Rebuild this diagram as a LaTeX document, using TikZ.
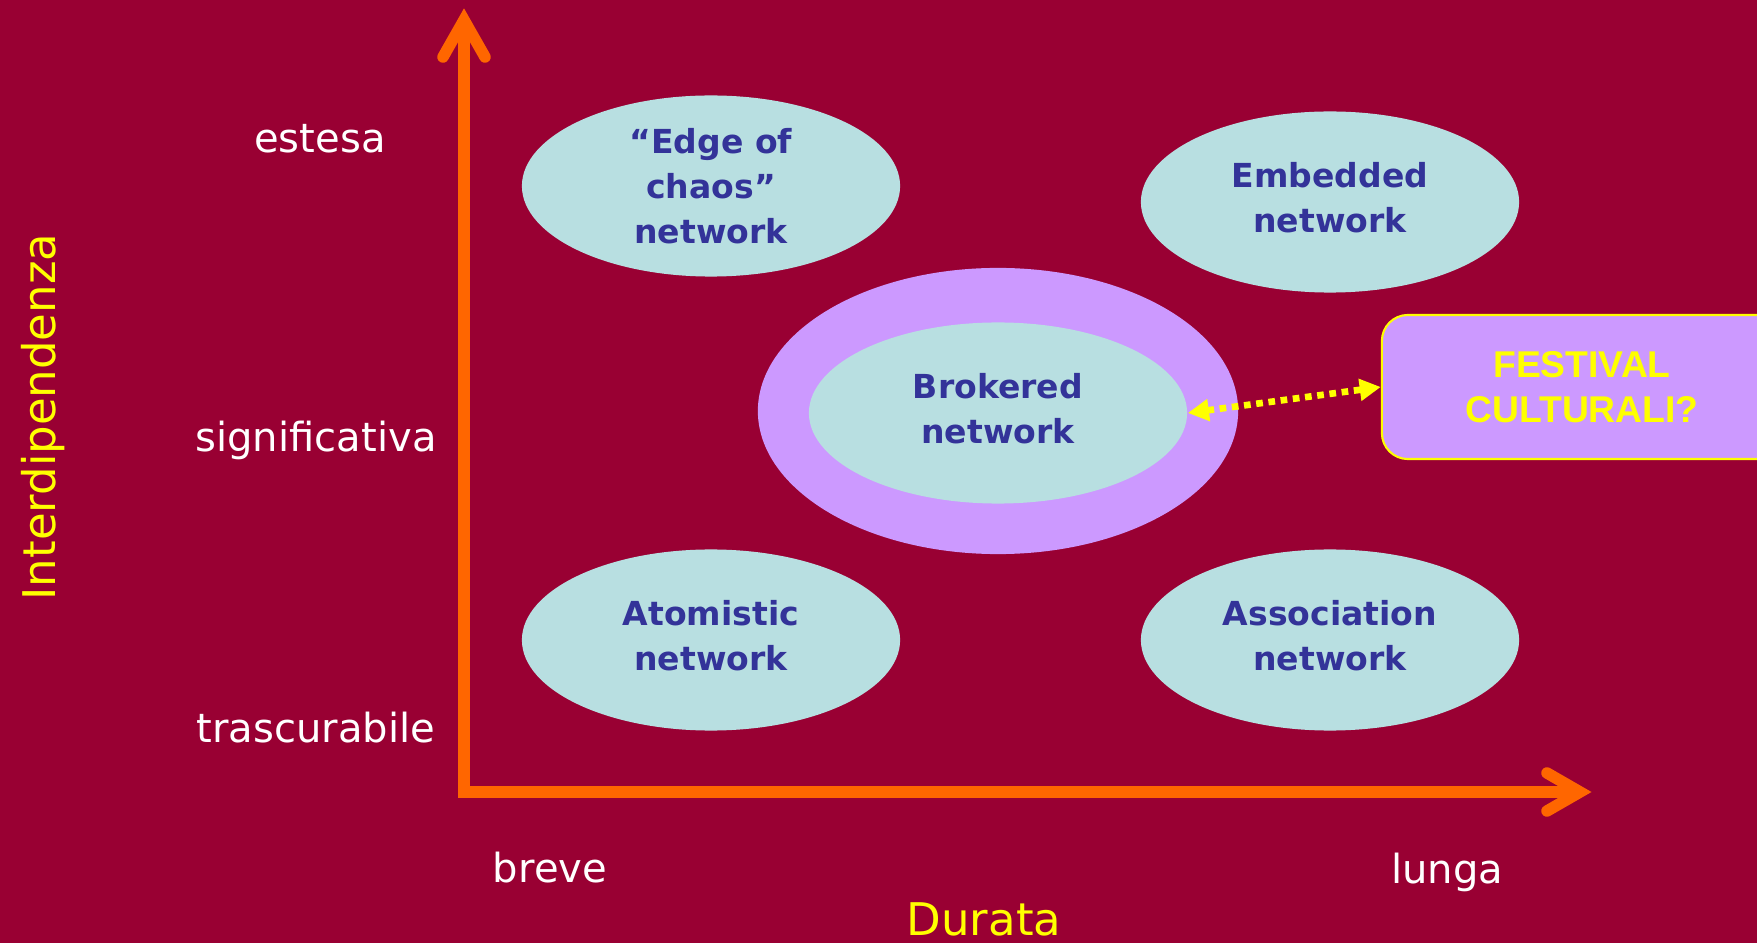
\documentclass[tikz,border=0pt]{standalone}
\usepackage{fontspec}
\setmainfont{DejaVu Sans}
\newfontfamily\boxfont{Liberation Sans}
\usetikzlibrary{shapes.geometric,arrows.meta}

\definecolor{bgred}{HTML}{990033}
\definecolor{axisorange}{HTML}{FF6600}
\definecolor{cloud}{HTML}{B8DFE1}
\definecolor{lilac}{HTML}{CC99FF}
\definecolor{ink}{HTML}{333399}
\definecolor{gold}{HTML}{FFFF00}

\begin{document}
\begin{tikzpicture}[x=0.01cm, y=-0.01cm,
  axisline/.style={draw=axisorange, line width=0.115cm},
  net/.style={ellipse, fill=cloud, minimum width=3.78cm, minimum height=1.81cm,
    inner sep=0pt, text=ink, align=center,
    font=\fontsize{9.4}{12.8}\selectfont\bfseries},
  twoline/.style={text depth=2.6pt},
  halo/.style={ellipse, fill=lilac, minimum width=4.8cm, minimum height=2.86cm, inner sep=0pt},
  scalelabel/.style={text=white, anchor=base, inner sep=0pt,
    font=\fontsize{11.4}{13}\selectfont},
  axistitle/.style={text=gold, anchor=base, inner sep=0pt,
    font=\fontsize{12.8}{15}\selectfont},
  questionbox/.style={rectangle, rounded corners=0.26cm, fill=lilac, draw=gold,
    line width=0.6pt, minimum width=4cm, minimum height=1.44cm, text=gold,
    align=center, font=\boxfont\fontsize{10.6}{12.8}\selectfont\bfseries},
  link/.style={draw=gold, line width=1.9pt, dash pattern=on 1.9pt off 1.6pt,
    {Triangle[length=6pt,width=6pt]}-{Triangle[length=6pt,width=6pt]}}]

% page and background
\useasboundingbox (0,0) rectangle (1757,943);
\fill[bgred] (0,0) rectangle (1757,943);

% axes
\coordinate (origin) at (464,792);
\coordinate (ytip) at (464,20);
\coordinate (xtip) at (1580,792);
\draw[axisline, line join=miter] (ytip) -- (origin) -- (xtip);
\draw[axisline, line cap=round, line join=miter]
  ([shift={(-21,37)}]ytip) -- (ytip) -- ([shift={(21,37)}]ytip);
\draw[axisline, line cap=round, line join=miter]
  ([shift={(-33,-19)}]xtip) -- (xtip) -- ([shift={(-33,19)}]xtip);

% network types
\node[halo] (brokerhalo) at (998,411) {};
\node[net] (chaos) at (711,186) {\textquotedblleft Edge of\\chaos\textquotedblright\\network};
\node[net, twoline] (embedded) at (1330,202) {Embedded\\network};
\node[net, twoline] (brokered) at (998,413) {Brokered\\network};
\node[net, twoline] (atomistic) at (711,640) {Atomistic\\network};
\node[net, twoline] (association) at (1330,640) {Association\\network};

% festival box and link
\node[questionbox] (festival) at (1582,387) {FESTIVAL\\CULTURALI?};
\draw[link] (brokered.east) -- (festival.west);

% scale labels
\node[scalelabel] (estesa) at (320,153) {estesa};
\node[scalelabel] (significativa) at (316,452) {significativa};
\node[scalelabel] (trascurabile) at (316,742) {trascurabile};
\node[scalelabel] (breve) at (550,882) {breve};
\node[scalelabel] (lunga) at (1447,883) {lunga};

% axis titles
\node[axistitle] (durata) at (984,935) {Durata};
\node[axistitle, rotate=90] (interdip) at (55,417) {Interdipendenza};
\end{tikzpicture}
\end{document}
